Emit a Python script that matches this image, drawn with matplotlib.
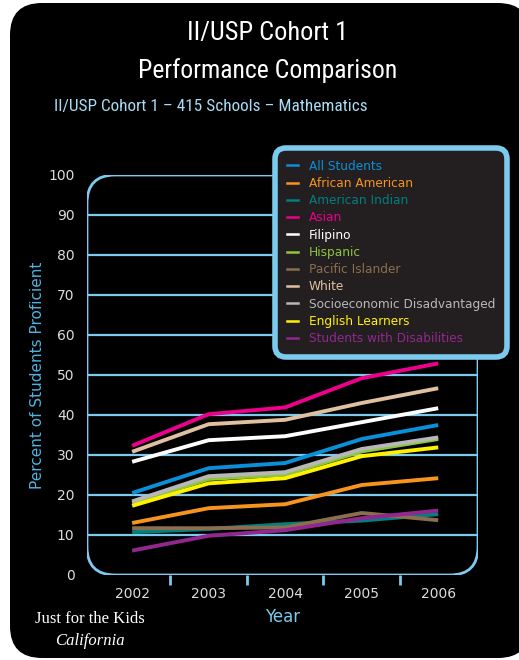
import matplotlib
matplotlib.use("Agg")
import matplotlib.pyplot as plt
from matplotlib import font_manager as fm
from matplotlib.patches import FancyBboxPatch
from matplotlib.transforms import IdentityTransform
from matplotlib.lines import Line2D

years = [2002, 2003, 2004, 2005, 2006]
groups = ["All Students", "African American", "American Indian", "Asian", "Filipino",
          "Hispanic", "Pacific Islander", "White", "Socioeconomic Disadvantaged",
          "English Learners", "Students with Disabilities"]
all_students = [20.5, 26.7, 28.0, 34.0, 37.5]
african_american = [13.0, 16.7, 17.7, 22.5, 24.2]
american_indian = [10.7, 11.5, 12.7, 13.6, 15.2]
asian = [32.3, 40.2, 41.9, 49.2, 52.9]
filipino = [28.3, 33.7, 34.7, 38.2, 41.7]
hispanic = [18.0, 24.0, 25.1, 30.9, 34.0]
pacific_islander = [11.7, 11.7, 11.9, 15.5, 13.7]
white = [30.8, 37.7, 38.8, 43.0, 46.7]
socio_disadv = [18.4, 24.7, 25.7, 31.5, 34.4]
english_learners = [17.3, 22.9, 24.2, 29.7, 31.9]
disabilities = [6.1, 9.8, 11.2, 14.2, 16.1]
series = [all_students, african_american, american_indian, asian, filipino, hispanic,
          pacific_islander, white, socio_disadv, english_learners, disabilities]
colors = ["#0a8fd8", "#f7941d", "#00807f", "#ec008c", "#ffffff", "#8dc63f",
          "#8b6e4e", "#dfc0a0", "#b8b8b8", "#fff200", "#92278f"]
yticks = list(range(0, 101, 10))

# pick a condensed font if one exists
entries = fm.fontManager.ttflist
names = {f.name for f in entries}
cond = None
for nm in ["Liberation Sans Narrow", "Roboto Condensed", "Open Sans Condensed",
           "Noto Sans Condensed"]:
    if nm in names:
        cond = dict(family=nm)
        break
scale = 1.0
if cond is None:
    cond = dict(family="DejaVu Sans")
    scale = 0.78

W, H = 519, 660
FR = "#7ccbee"
fig = plt.figure(figsize=(W / 100, H / 100), dpi=100)
fig.patch.set_facecolor("white")

# black card
card = FancyBboxPatch((10, 2), 520, 655, boxstyle="round,pad=0,rounding_size=32",
                      transform=IdentityTransform(), facecolor="black", edgecolor="none",
                      zorder=-5)
fig.patches.append(card)

fig.text(268 / W, 1 - 33 / H, "II/USP Cohort 1", color="white", fontsize=19 * scale,
         ha="center", va="center", **cond)
fig.text(268 / W, 1 - 71 / H, "Performance Comparison", color="white", fontsize=18.5 * scale,
         ha="center", va="center", **cond)
fig.text(54 / W, 1 - 106 / H, "II/USP Cohort 1 \u2013 415 Schools \u2013 Mathematics",
         color="#a9dcf5", fontsize=12.4 * scale, ha="left", va="center", **cond)

ax_l, ax_r, ax_t, ax_b = 87, 478, 175, 575
ax = fig.add_axes([ax_l / W, 1 - ax_b / H, (ax_r - ax_l) / W, (ax_b - ax_t) / H])
ax.set_facecolor("none")
ax.set_xlim(2001.41, 2006.52)
ax.set_ylim(0, 100)
for s in ax.spines.values():
    s.set_visible(False)

frame = FancyBboxPatch((0, 0), 1, 1, boxstyle="round,pad=0,rounding_size=0.072",
                       transform=ax.transAxes, facecolor="none", edgecolor=FR, lw=2,
                       zorder=1, mutation_aspect=(ax_r - ax_l) / (ax_b - ax_t))
ax.add_patch(frame)
for v in yticks[1:-1]:
    ax.axhline(v, color=FR, lw=1.6, zorder=1)

handles = []
for name, vals, c in zip(groups, series, colors):
    ax.plot(years, vals, color=c, lw=2.8, zorder=3, solid_capstyle="butt")
    handles.append(Line2D([], [], color=c, lw=1.8))

ax.set_yticks(yticks)
ax.set_yticklabels([str(v) for v in yticks], color="#dddddd", fontsize=10)
ax.tick_params(axis="y", length=0, pad=9)
ax.set_xticks(years)
ax.set_xticklabels([str(y) for y in years], color="#dddddd", fontsize=10)
ax.set_xticks([2002.5, 2003.5, 2004.5, 2005.5], minor=True)
ax.tick_params(axis="x", which="major", length=0, pad=9)
ax.tick_params(axis="x", which="minor", length=7, width=2, color=FR, direction="out")
ax.set_xlabel("Year", color="#7ccbee", fontsize=12, labelpad=5)
ax.set_ylabel("Percent of Students Proficient", color="#4fb3e0", fontsize=11, labelpad=2)

leg = ax.legend(handles, groups, loc="upper left", bbox_to_anchor=(275 / W, 1 - 148 / H),
                bbox_transform=fig.transFigure, fontsize=8.75, labelcolor=colors,
                handlelength=0.95, handletextpad=0.9, labelspacing=0.35,
                borderpad=0.95, borderaxespad=0, frameon=True, fancybox=True)
fr = leg.get_frame()
fr.set_facecolor("#231f20")
fr.set_edgecolor(FR)
fr.set_linewidth(4)
fr.set_alpha(1)
fr.set_boxstyle("round,pad=0,rounding_size=0.9")
leg.set_zorder(5)

fig.text(90 / W, 1 - 619 / H, "Just for the Kids", color="white", fontsize=12,
         family="Liberation Serif", ha="center", va="center")
fig.text(90 / W, 1 - 641 / H, "California", color="white", fontsize=12,
         family="Liberation Serif", style="italic", ha="center", va="center")

fig.savefig("out.png", dpi=100, facecolor=fig.get_facecolor())
